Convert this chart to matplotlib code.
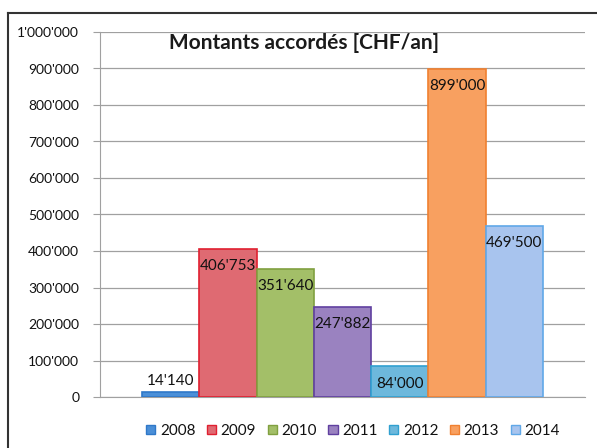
import matplotlib
matplotlib.use("Agg")
import matplotlib.pyplot as plt
from matplotlib.patches import Patch
from matplotlib.lines import Line2D
from matplotlib.ticker import FuncFormatter, MultipleLocator

plt.rcParams['font.family'] = ['Lato', 'DejaVu Sans']

years = ["2008", "2009", "2010", "2011", "2012", "2013", "2014"]
values = [14140, 406753, 351640, 247882, 84000, 899000, 469500]
fills = ["#4a8fd8", "#df6a72", "#a3bf68", "#9a82c0", "#6db8dc", "#f8a060", "#a8c4ee"]
edges = ["#2f78c8", "#e02030", "#80a040", "#6040a0", "#30a0d0", "#f08030", "#60a8e8"]
title = "Montants accordés [CHF/an]"


def fmt(v, pos=None):
    return f"{int(v):,}".replace(",", "'")


fig = plt.figure(figsize=(5.97, 4.48), dpi=100)
ax = fig.add_axes([100 / 597, 1 - 397 / 448, 485 / 597, 365 / 448])

xs = list(range(len(years)))
for x, v, fc, ec in zip(xs, values, fills, edges):
    ax.bar(x, v, width=1.0, color=fc, edgecolor=ec, linewidth=1.2, zorder=3)

for x, v in zip(xs, values):
    if v < 50000:
        ax.annotate(fmt(v), (x, v), xytext=(0, 8), textcoords="offset points",
                    ha="center", va="center", fontsize=11, color="#111111", zorder=5)
    else:
        ax.annotate(fmt(v), (x, v), xytext=(0, -12.5), textcoords="offset points",
                    ha="center", va="center", fontsize=11, color="#111111", zorder=5)

gap = 42 / 57.3
ax.set_xlim(-0.5 - gap, len(years) - 0.5 + gap)
ax.set_ylim(0, 1000000)
ax.yaxis.set_major_locator(MultipleLocator(100000))
ax.yaxis.set_major_formatter(FuncFormatter(fmt))
ax.set_xticks([])
ax.grid(axis="y", color="#a0a0a0", linewidth=0.9, zorder=0)
for s in ["top", "right"]:
    ax.spines[s].set_visible(False)
ax.spines["left"].set_color("#a0a0a0")
ax.spines["bottom"].set_color("#a0a0a0")
ax.tick_params(axis="y", length=5, color="#a0a0a0", labelsize=10, labelcolor="#111111", pad=10)

ax.text(0.42, 0.97, title, transform=ax.transAxes, ha="center", va="center",
        fontsize=15, fontweight="bold", color="#1a1a1a")

handles = [Patch(facecolor=fc, edgecolor=ec, linewidth=1.0) for fc, ec in zip(fills, edges)]
fig.legend(handles, years, loc="center", bbox_to_anchor=(353 / 597, 1 - 431 / 448),
           ncol=7, frameon=False, fontsize=11, handlelength=0.6, handleheight=0.6,
           handletextpad=0.3, columnspacing=0.75, labelcolor="#111111")

# outer frame
fig.add_artist(Line2D([8 / 597, 1.0], [1 - 13 / 448, 1 - 13 / 448], transform=fig.transFigure,
                      color="#333333", linewidth=1.5))
fig.add_artist(Line2D([8 / 597, 8 / 597], [1 - 13 / 448, 0.0], transform=fig.transFigure,
                      color="#333333", linewidth=1.5))

fig.savefig("out.png", dpi=100)
